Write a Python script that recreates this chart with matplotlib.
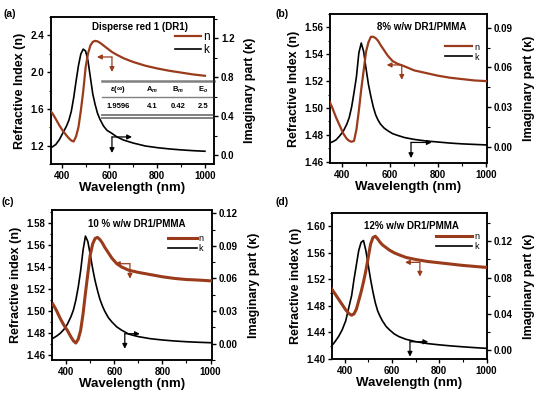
import numpy as np
import matplotlib
matplotlib.use("Agg")
import matplotlib.pyplot as plt
from matplotlib.ticker import MultipleLocator, FormatStrFormatter
from matplotlib.lines import Line2D

plt.rcParams["font.family"] = ["Liberation Sans", "DejaVu Sans"]
plt.rcParams["font.weight"] = "bold"
plt.rcParams["mathtext.fontset"] = "custom"
plt.rcParams["mathtext.rm"] = "Liberation Sans:bold"
plt.rcParams["mathtext.it"] = "Liberation Sans:italic:bold"

wl = [345, 360, 375, 390, 405, 420, 430, 440, 450, 460, 470, 480, 490, 500, 510, 520,
      530, 540, 550, 560, 575, 590, 610, 630, 660, 700, 750, 800, 850, 900, 950, 1000]

# (a) DR1
n_a = [1.60, 1.555, 1.49, 1.42, 1.36, 1.31, 1.28, 1.255, 1.245, 1.30, 1.40, 1.58, 1.79, 2.05, 2.20, 2.29,
       2.33, 2.34, 2.335, 2.32, 2.29, 2.26, 2.22, 2.19, 2.15, 2.11, 2.07, 2.04, 2.015, 1.995, 1.975, 1.96]
k_a = [0.07, 0.085, 0.11, 0.16, 0.23, 0.30, 0.36, 0.45, 0.59, 0.76, 0.92, 1.04, 1.09, 1.07, 0.97, 0.80,
       0.63, 0.52, 0.43, 0.37, 0.30, 0.255, 0.225, 0.19, 0.155, 0.125, 0.095, 0.078, 0.065, 0.055, 0.047, 0.041]
# (b) 8%
n_b = [1.506, 1.500, 1.493, 1.487, 1.481, 1.477, 1.4755, 1.4748, 1.4755, 1.484, 1.498, 1.514, 1.528, 1.542, 1.549, 1.553,
       1.553, 1.552, 1.550, 1.547, 1.543, 1.539, 1.535, 1.533, 1.531, 1.528, 1.526, 1.524, 1.5225, 1.5215, 1.5205, 1.520]
k_b = [0.0025, 0.0035, 0.005, 0.008, 0.0115, 0.017, 0.022, 0.030, 0.041, 0.053, 0.071, 0.0785, 0.072, 0.059, 0.047, 0.038,
       0.030, 0.024, 0.020, 0.017, 0.014, 0.012, 0.0098, 0.0085, 0.0068, 0.0054, 0.0042, 0.0034, 0.0026, 0.0020, 0.0016, 0.0012]
# (c) 10%
n_c = [1.506, 1.500, 1.493, 1.487, 1.482, 1.476, 1.4725, 1.4705, 1.474, 1.482, 1.497, 1.516, 1.534, 1.551, 1.561, 1.566,
       1.567, 1.565, 1.562, 1.558, 1.553, 1.548, 1.543, 1.540, 1.537, 1.535, 1.533, 1.531, 1.5295, 1.5285, 1.528, 1.5273]
k_c = [0.005, 0.007, 0.0095, 0.013, 0.018, 0.025, 0.031, 0.040, 0.052, 0.067, 0.086, 0.099, 0.094, 0.082, 0.069, 0.058,
       0.049, 0.041, 0.035, 0.030, 0.024, 0.020, 0.0155, 0.0125, 0.0088, 0.0065, 0.0046, 0.0034, 0.0025, 0.0018, 0.0013, 0.0009]
# (d) 12%
n_d = [1.506, 1.498, 1.490, 1.482, 1.474, 1.468, 1.466, 1.468, 1.475, 1.488, 1.501, 1.516, 1.533, 1.553, 1.573, 1.583,
       1.585, 1.581, 1.576, 1.572, 1.568, 1.564, 1.560, 1.557, 1.553, 1.550, 1.547, 1.545, 1.543, 1.541, 1.5395, 1.538]
k_d = [0.004, 0.009, 0.0147, 0.022, 0.032, 0.049, 0.060, 0.078, 0.094, 0.110, 0.119, 0.121, 0.110, 0.094, 0.078, 0.064,
       0.052, 0.043, 0.037, 0.032, 0.026, 0.022, 0.0175, 0.0145, 0.0115, 0.0090, 0.0068, 0.0054, 0.0042, 0.0032, 0.0023, 0.0015]

titles = ["Disperse red 1 (DR1)", "8% w/w DR1/PMMA", "10 % w/w DR1/PMMA", "12% w/w DR1/PMMA"]
ylabels = ["Refractive Index (n)", "Refractive Index (n)", "Refractive index (n)", "Refractive index (n)"]
tab_head = [r"$\varepsilon(\infty)$", "A$_m$", "B$_m$", "E$_o$"]
tab_vals = ["1.9596", "4.1", "0.42", "2.5"]

brown = "#9a3b1c"

W, H = 550, 397
fig = plt.figure(figsize=(5.5, 3.97), dpi=100)

def box(l, t, r, b):
    return [l / W, 1 - b / H, (r - l) / W, (b - t) / H]

panels = [
    dict(rect=box(51, 17, 214, 164), n=n_a, k=k_a, xlim=(355, 1038), ylim=(1.0, 2.6), y2lim=(-0.09, 1.42),
         ymaj=0.4, y2maj=0.4, yfmt="%.1f", y2fmt="%.1f", lw_n=1.6, leg_fs=8.5, leg_hl=2.2,
         title_xy=(0.546, 0.93), leg_y=0.92, leg_x=0.99,
         arr_n=((0.374, 0.728), (0.282, 0.728), (0.374, 0.626)),
         arr_k=((0.374, 0.184), (0.374, 0.075), (0.497, 0.184))),
    dict(rect=box(330, 14, 487, 163), n=n_b, k=k_b, xlim=(350, 1003), ylim=(1.459, 1.570), y2lim=(-0.0125, 0.1005),
         ymaj=0.02, y2maj=0.03, yfmt="%.2f", y2fmt="%.2f", lw_n=1.6, leg_fs=6.5, leg_hl=3.0,
         title_xy=(0.585, 0.91), leg_y=0.82, leg_x=0.96,
         arr_n=((0.457, 0.658), (0.361, 0.658), (0.457, 0.558)),
         arr_k=((0.516, 0.138), (0.516, 0.033), (0.648, 0.138))),
    dict(rect=box(52, 210, 212, 360), n=n_c, k=k_c, xlim=(341, 1006), ylim=(1.455, 1.592), y2lim=(-0.015, 0.123),
         ymaj=0.02, y2maj=0.03, yfmt="%.2f", y2fmt="%.2f", lw_n=2.2, leg_fs=6.5, leg_hl=3.2,
         title_xy=(0.528, 0.905), leg_y=0.85, leg_x=0.96,
         arr_n=((0.487, 0.642), (0.393, 0.642), (0.487, 0.542)),
         arr_k=((0.455, 0.175), (0.455, 0.075), (0.549, 0.175))),
    dict(rect=box(332, 213, 487, 359), n=n_d, k=k_d, xlim=(347, 1002), ylim=(1.40, 1.62), y2lim=(-0.0103, 0.1515),
         ymaj=0.04, y2maj=0.04, yfmt="%.2f", y2fmt="%.2f", lw_n=2.2, leg_fs=6.5, leg_hl=4.0,
         title_xy=(0.514, 0.91), leg_y=0.88, leg_x=0.96,
         arr_n=((0.567, 0.662), (0.471, 0.662), (0.567, 0.564)),
         arr_k=((0.503, 0.118), (0.503, 0.016), (0.621, 0.118))),
]

for i, p in enumerate(panels):
    ax = fig.add_axes(p["rect"])
    ax2 = ax.twinx()
    ax.plot(wl, p["n"], color=brown, lw=p["lw_n"], zorder=3)
    ax2.plot(wl, p["k"], color="black", lw=1.2)
    ax.set_zorder(ax2.get_zorder() + 1)
    ax.patch.set_visible(False)

    ax.set_xlim(*p["xlim"])
    ax.set_ylim(*p["ylim"])
    ax2.set_ylim(*p["y2lim"])
    ax.xaxis.set_major_locator(MultipleLocator(200))
    ax.xaxis.set_minor_locator(MultipleLocator(100))
    ax.yaxis.set_major_locator(MultipleLocator(p["ymaj"]))
    ax.yaxis.set_minor_locator(MultipleLocator(p["ymaj"] / 2))
    ax2.yaxis.set_major_locator(MultipleLocator(p["y2maj"]))
    ax2.yaxis.set_minor_locator(MultipleLocator(p["y2maj"] / 2))
    ax.yaxis.set_major_formatter(FormatStrFormatter(p["yfmt"]))
    ax2.yaxis.set_major_formatter(FormatStrFormatter(p["y2fmt"]))

    for a in (ax, ax2):
        a.tick_params(which="major", direction="out", length=3, width=1, labelsize=7, pad=2)
        a.tick_params(which="minor", direction="out", length=1.8, width=0.8)
        for s in a.spines.values():
            s.set_linewidth(1.1)

    ax.set_xlabel("Wavelength (nm)", fontsize=9.5, fontweight="bold", labelpad=1)
    ax.set_ylabel(ylabels[i], fontsize=9, fontweight="bold", labelpad=3)
    ax2.set_ylabel("Imaginary part (\u03ba)", fontsize=9, fontweight="bold", labelpad=7)

    ax.text(p["title_xy"][0], p["title_xy"][1], titles[i], transform=ax.transAxes,
            ha="center", va="center", fontsize=7, fontweight="bold")

    handles = [Line2D([], [], color=brown, lw=p["lw_n"]), Line2D([], [], color="black", lw=1.2)]
    leg = ax.legend(handles, ["n", "k"], loc="upper right", bbox_to_anchor=(p["leg_x"], p["leg_y"]),
                    frameon=False, fontsize=p["leg_fs"], handlelength=p["leg_hl"], handletextpad=0.2,
                    labelspacing=0.1, borderaxespad=0.0, borderpad=0.2)
    for t in leg.get_texts():
        t.set_fontweight("normal")

    # arrows pointing to the axis of each curve
    for key, col in (("arr_n", brown), ("arr_k", "black")):
        s, e1, e2 = p[key]
        for e in (e1, e2):
            ax.annotate("", xy=e, xytext=s, xycoords="axes fraction", textcoords="axes fraction",
                        arrowprops=dict(arrowstyle="-|>", color=col, lw=0.9,
                                        mutation_scale=7, shrinkA=0, shrinkB=0))

    if i == 0:
        tr = ax.transAxes
        for yy, lw in ((0.565, 1.8), (0.456, 1.0), (0.336, 1.4), (0.316, 1.4)):
            ax.plot([0.313, 1.0], [yy, yy], transform=tr, color="#808080", lw=lw, clip_on=False)
        cols = [0.411, 0.620, 0.779, 0.933]
        for cx, h, v in zip(cols, tab_head, tab_vals):
            ax.text(cx, 0.507, h, transform=tr, ha="center", va="center", fontsize=5.5)
            ax.text(cx, 0.39, v, transform=tr, ha="center", va="center", fontsize=5.5)

for lab, x, y in (("(a)", 4, 14), ("(b)", 276, 14), ("(c)", 2, 202), ("(d)", 276, 202)):
    fig.text(x / W, 1 - y / H, lab, fontsize=7.5, fontweight="bold", va="center", ha="left")

fig.savefig("out.png", dpi=100)
